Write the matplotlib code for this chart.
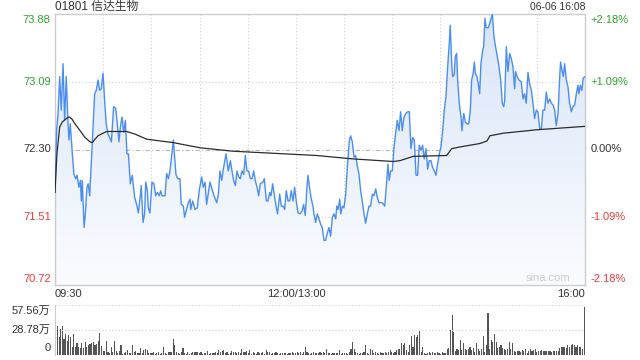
import numpy as np
import matplotlib
matplotlib.use("Agg")
import matplotlib.pyplot as plt
from matplotlib.colors import LinearSegmentedColormap

plt.rcParams["font.family"] = ["Liberation Sans", "Noto Sans CJK SC", "DejaVu Sans"]
plt.rcParams["axes.unicode_minus"] = False

# ── data (trading minutes since 09:30, lunch break removed: 0..330) ──
stock_title = "01801 信达生物"
stamp = "06-06 16:08"
prev_close = 72.30
price_ticks = [73.88, 73.09, 72.30, 71.51, 70.72]
pct_ticks = ["+2.18%", "+1.09%", "0.00%", "-1.09%", "-2.18%"]
time_labels = ["09:30", "12:00/13:00", "16:00"]
vol_ticks = ["57.56万", "28.78万", "0"]
vol_max = 57.56

price_time = [
    0, 1.0, 1.9, 2.9, 3.9, 5.0, 6.0, 7.0, 8.1, 8.7, 9.5, 10.8, 11.8, 12.9, 13.7,
    14.9, 15.8, 16.4, 17.0, 18.1, 18.9, 19.9, 20.7, 21.6, 23.2, 24.7, 25.7, 26.8,
    27.8, 28.8, 29.9, 30.9, 31.9, 33.0, 34.0, 35.1, 36.5, 37.8, 38.8, 39.8, 40.7,
    41.7, 42.8, 43.8, 44.8, 45.7, 46.9, 48.1, 49.6, 51.1, 51.9, 53.1, 53.7, 54.8,
    55.8, 56.5, 57.5, 58.1, 59.1, 60.4, 61.6, 62.7, 63.7, 64.9, 65.8, 66.6, 68.5,
    69.5, 70.6, 71.6, 73.7, 75.3, 76.4, 77.8, 78.6, 79.9, 80.7, 81.6, 83.0, 84.1,
    84.5, 85.7, 87.2, 88.6, 89.8, 91.3, 92.3, 93.4, 94.4, 95.5, 96.5, 97.7, 99.0,
    100.7, 101.7, 102.7, 103.8, 104.8, 106.5, 107.9, 109.2, 110.2, 111.2, 112.3,
    113.3, 114.4, 115.4, 116.4, 117.5, 118.5, 119.5, 120.6, 121.6, 122.7, 123.7,
    124.7, 125.8, 126.8, 127.8, 129.5, 130.3, 131.6, 132.6, 133.7, 134.5, 135.5,
    136.5, 137.8, 138.6, 139.9, 140.9, 142.0, 143.0, 144.0, 145.1, 146.1, 147.1,
    148.2, 149.2, 150.2, 151.3, 152.7, 153.8, 154.8, 155.8, 156.9, 157.5, 158.6,
    159.4, 160.6, 161.4, 162.3, 163.3, 164.4, 165.4, 166.4, 167.5, 168.5, 169.6,
    170.6, 171.6, 172.7, 173.7, 174.8, 175.4, 176.2, 177.3, 177.9, 178.9, 179.9,
    181.0, 182.0, 183.3, 184.1, 185.1, 186.2, 187.2, 188.2, 189.3, 190.3, 191.3,
    192.4, 193.4, 194.5, 195.5, 196.5, 197.6, 198.6, 199.7, 200.7, 201.7, 203.8,
    205.3, 206.5, 207.3, 208.1, 209.0, 210.0, 211.1, 212.1, 213.1, 214.2, 215.2,
    216.2, 217.3, 218.5, 219.6, 220.6, 221.6, 222.7, 223.7, 224.8, 225.8, 226.8,
    227.9, 228.9, 229.9, 231.0, 232.0, 233.0, 234.1, 235.1, 236.2, 237.2, 238.2,
    239.3, 240.3, 241.4, 242.4, 243.4, 244.5, 245.5, 246.1, 247.0, 247.6, 248.6,
    249.2, 250.1, 250.7, 251.7, 252.8, 253.4, 254.5, 255.5, 256.5, 257.6, 258.6,
    259.4, 260.4, 261.1, 261.7, 262.7, 263.5, 264.4, 265.2, 266.3, 266.9, 267.7,
    268.5, 269.8, 271.0, 272.3, 273.3, 274.1, 275.4, 276.2, 277.5, 278.5, 279.4,
    280.0, 281.0, 282.0, 283.1, 284.1, 285.1, 286.2, 286.8, 287.8, 288.9, 290.3,
    291.4, 292.4, 293.4, 294.5, 295.5, 296.6, 297.6, 298.6, 299.7, 300.7, 301.8,
    302.8, 303.8, 304.9, 305.9, 306.9, 308.0, 309.0, 310.1, 311.1, 312.1, 313.2,
    314.2, 314.8, 315.6, 316.5, 317.3, 318.4, 319.4, 320.4, 321.5, 322.5, 323.6,
    324.6, 325.6, 326.2, 327.1, 328.1, 328.8, 330.0,
]
price = [
    71.80, 72.52, 72.72, 73.15, 72.76, 73.30, 72.64, 73.15, 72.60, 72.41, 72.60,
    72.25, 72.01, 71.96, 72.00, 71.86, 71.94, 71.70, 71.94, 71.39, 71.55, 71.86,
    71.90, 71.76, 72.37, 72.95, 72.99, 73.11, 72.99, 73.01, 73.19, 72.87, 72.60,
    72.48, 72.44, 72.39, 72.80, 72.78, 72.60, 72.39, 72.56, 72.68, 72.50, 72.64,
    72.25, 72.25, 71.90, 72.00, 71.74, 71.64, 71.56, 71.76, 71.88, 71.45, 71.55,
    71.92, 71.82, 71.62, 71.56, 71.92, 71.90, 71.76, 71.80, 71.76, 71.82, 71.76,
    71.76, 72.02, 71.96, 72.05, 72.41, 72.01, 71.96, 71.96, 71.66, 71.64, 71.51,
    71.58, 71.68, 71.72, 71.60, 71.70, 71.60, 71.62, 71.82, 71.98, 71.86, 71.92,
    71.66, 71.80, 71.92, 71.84, 71.76, 71.68, 71.78, 72.05, 71.94, 72.07, 72.25,
    72.05, 72.17, 72.05, 71.94, 71.88, 72.05, 71.98, 71.96, 72.05, 72.01, 72.23,
    72.05, 72.05, 71.96, 71.96, 72.05, 71.94, 71.86, 71.76, 71.90, 71.92, 71.96,
    71.70, 71.70, 71.80, 71.76, 71.90, 71.78, 71.62, 71.55, 71.78, 71.64, 71.64,
    71.60, 71.82, 71.70, 71.70, 71.82, 71.70, 71.86, 71.70, 71.56, 71.55, 71.58,
    71.66, 71.53, 71.86, 72.00, 71.84, 71.74, 71.64, 71.53, 71.45, 71.55, 71.49,
    71.43, 71.39, 71.24, 71.24, 71.33, 71.39, 71.29, 71.51, 71.55, 71.49, 71.64,
    71.60, 71.72, 71.55, 71.64, 71.62, 71.78, 72.09, 72.41, 72.46, 72.39, 72.21,
    72.23, 72.11, 72.01, 71.82, 71.70, 71.55, 71.44, 71.55, 71.64, 71.64, 71.78,
    71.76, 71.84, 71.74, 71.68, 71.68, 71.64, 71.92, 72.13, 71.94, 72.05, 72.05,
    72.33, 72.48, 72.64, 72.52, 72.74, 72.52, 72.68, 72.72, 72.74, 72.74, 72.31,
    72.44, 72.41, 72.00, 72.00, 72.35, 72.29, 72.35, 72.19, 72.31, 72.07, 72.17,
    72.17, 72.09, 72.05, 72.00, 72.13, 72.25, 72.33, 72.52, 72.76, 72.91, 73.27,
    73.54, 73.75, 73.30, 73.15, 73.17, 73.38, 73.42, 73.11, 72.84, 72.68, 72.52,
    72.72, 72.62, 72.60, 72.60, 72.76, 73.11, 73.19, 73.32, 73.19, 73.15, 73.07,
    72.95, 73.30, 73.46, 73.50, 73.83, 73.72, 73.72, 73.79, 73.88, 73.62, 73.52,
    73.38, 73.30, 73.11, 72.84, 72.80, 72.87, 73.50, 73.21, 73.42, 73.36, 73.27,
    73.01, 73.21, 73.15, 73.11, 73.09, 72.89, 72.95, 72.84, 73.20, 73.07, 72.99,
    72.84, 72.66, 72.76, 72.74, 72.54, 72.54, 72.76, 72.76, 72.97, 72.84, 72.89,
    72.84, 72.82, 72.76, 72.58, 72.72, 73.13, 73.32, 73.23, 73.15, 73.30, 73.11,
    73.03, 72.84, 72.74, 72.80, 72.82, 72.95, 73.05, 72.95, 73.05, 72.99, 73.13,
    73.15,
]

avg_time = [0, 1.2, 2.9, 4.5, 7.0, 8.7, 10.4, 12.4, 15.6, 18.7, 21.8, 23.2, 24.9,
            26.8, 29.9, 32.2, 44.6, 49.8, 57.1, 65.4, 73.7, 90.3, 110.8, 131.8,
            162.9, 185.7, 210.6, 214.8, 223.1, 243.9, 247.0, 252.2, 264.6, 269.0,
            270.8, 279.1, 299.9, 330.0]
avg_price = [71.80, 72.25, 72.56, 72.62, 72.66, 72.68, 72.66, 72.60, 72.52, 72.44,
             72.39, 72.38, 72.42, 72.46, 72.49, 72.51, 72.51, 72.48, 72.42, 72.40,
             72.38, 72.32, 72.28, 72.26, 72.23, 72.19, 72.16, 72.17, 72.22, 72.23,
             72.31, 72.33, 72.37, 72.40, 72.46, 72.49, 72.53, 72.57]

# volume per minute, in 万 shares
volume = [
    45.9, 33.0, 21.0, 30.0, 33.0, 18.0, 24.5, 15.6, 22.6, 20.6, 9.0, 23.7, 9.0,
    14.0, 9.0, 7.8, 13.6, 7.8, 15.2, 9.0, 12.0, 12.8, 13.6, 15.2, 11.3, 12.8,
    16.0, 25.3, 10.0, 5.0, 5.0, 16.0, 3.0, 2.0, 9.0, 3.0, 16.0, 5.0, 2.0, 4.3,
    11.0, 1.2, 2.0, 3.0, 6.0, 2.0, 2.0, 12.0, 3.0, 5.0, 2.0, 2.3, 8.0, 2.7, 5.8,
    6.6, 5.8, 2.3, 2.0, 2.0, 3.0, 1.2, 2.3, 3.9, 1.2, 2.7, 9.7, 2.0, 1.2, 3.0,
    3.9, 3.9, 18.0, 12.0, 3.0, 2.0, 1.2, 3.0, 7.8, 2.0, 1.2, 3.0, 1.2, 2.0, 3.0,
    3.9, 3.0, 3.9, 2.3, 3.9, 1.2, 2.0, 2.3, 5.0, 1.2, 2.0, 2.3, 2.0, 3.0, 2.3,
    5.8, 3.0, 5.0, 5.8, 2.3, 3.0, 1.2, 2.0, 5.0, 3.0, 3.9, 2.3, 3.0, 2.0, 7.0,
    3.0, 3.9, 5.0, 2.3, 5.8, 1.2, 3.0, 2.0, 1.2, 3.0, 2.3, 2.0, 3.0, 1.2, 5.8,
    3.9, 3.0, 1.2, 2.0, 2.3, 3.0, 2.0, 1.2, 2.3, 2.0, 2.7, 2.0, 1.2, 2.3, 2.0,
    3.0, 2.0, 2.3, 3.0, 2.0, 3.9, 1.2, 3.0, 9.7, 3.0, 2.0, 1.2, 2.3, 3.9, 2.0,
    2.7, 2.0, 3.0, 2.0,
    3.0, 2.0, 7.0, 2.0, 2.3, 1.2, 2.0, 2.0, 2.0, 2.3, 5.8, 1.2, 2.3, 2.0, 2.3,
    1.2, 3.0, 7.0, 14.4, 7.0, 3.0, 2.3, 1.2, 2.7, 2.3, 3.0, 11.0, 2.0, 1.2, 7.0,
    5.8, 2.0, 3.9, 2.3, 1.2, 3.0, 2.3, 2.0, 3.0, 2.3, 3.9, 5.8, 3.0, 2.3, 3.9,
    5.8, 7.0, 7.0, 14.0, 11.0, 14.0, 5.8, 3.0, 11.0, 21.4, 9.0, 23.3, 20.6, 23.3,
    28.4, 3.0, 9.0, 2.0, 1.2, 2.0, 3.9, 2.0, 3.9, 2.0, 2.3, 3.0, 2.0, 1.2, 3.9,
    2.3, 2.0, 7.0, 8.0, 28.4, 45.9, 26.5, 5.0, 7.0, 5.8, 17.5, 5.8, 13.6, 7.0,
    5.8, 7.0, 9.0, 5.8, 8.0, 3.0, 13.6, 7.0, 5.0, 7.0, 21.4, 3.0, 11.0, 48.6,
    7.0, 17.5, 14.8, 24.5, 14.8, 8.0, 9.0, 11.0, 8.0, 7.0, 5.8, 7.0, 14.8, 7.0,
    13.6, 4.3, 3.0, 5.0, 4.3, 3.0, 5.8, 5.0, 7.0, 2.0, 5.0, 7.0, 5.0, 5.8, 7.0,
    3.0, 4.3, 5.0, 5.8, 5.0, 4.3, 4.3, 5.0, 4.3, 3.0, 5.0, 5.0, 4.3, 5.0, 8.0,
    9.0, 9.0, 9.7, 8.0, 11.0, 9.0, 11.7, 12.8, 11.0, 9.7, 11.0, 9.0, 9.7, 7.0,
    55.6,
]

# ── colours ──
GREEN = "#2aa52a"
RED = "#f03c3c"
DARK = "#333333"
GRID = "#cfcfcf"
BLUE = "#4c8ef0"

fig = plt.figure(figsize=(6.4, 3.6), dpi=100)
W, H = 640.0, 360.0


def box(x0, y0, x1, y1):
    """pixel box (top-left origin) -> figure fraction rect"""
    return [x0 / W, 1 - y1 / H, (x1 - x0) / W, (y1 - y0) / H]


ax = fig.add_axes(box(55, 14, 585, 285))
axv = fig.add_axes(box(55, 305, 585, 355))

t_end = 330
ymin, ymax = price_ticks[-1], price_ticks[0]

# gradient area under the price line
poly = ax.fill_between(price_time, price, ymin, color="none", lw=0)
cmap = LinearSegmentedColormap.from_list("fill", ["#fbfcff", "#d8e5f8"])
grad = np.linspace(0, 1, 256).reshape(-1, 1)
im = ax.imshow(grad, extent=[0, t_end, ymin, ymax], origin="lower",
               aspect="auto", cmap=cmap, zorder=1)
im.set_clip_path(poly.get_paths()[0], transform=ax.transData)

# grid
for m in range(30, t_end, 30):
    ax.axvline(m, color=GRID, lw=0.8, ls=(0, (1, 2)), zorder=0.5)
for p in price_ticks[1:-1]:
    if p == prev_close:
        ax.axhline(p, color="#b5b5b5", lw=0.8, ls=(0, (4, 2, 1, 2)), zorder=0.5)
    else:
        ax.axhline(p, color=GRID, lw=0.8, ls=(0, (1, 2)), zorder=0.5)

ax.plot(price_time, price, color=BLUE, lw=1.0, zorder=3)
ax.plot(avg_time, avg_price, color="#2b2b2b", lw=0.9, zorder=4)

ax.set_xlim(0, t_end)
ax.set_ylim(ymin, ymax)
ax.set_xticks([])
ax.set_yticks([])
for s in ax.spines.values():
    s.set_color("#cccccc")
    s.set_linewidth(1.0)

# left price labels / right percent labels
colors = [GREEN, GREEN, DARK, RED, RED]
for i, (p, pc, c) in enumerate(zip(price_ticks, pct_ticks, colors)):
    yy = p - 0.07 if i == 0 else (p + 0.07 if i == len(price_ticks) - 1 else p)
    ax.text(-0.008, yy, f"{p:.2f}", transform=ax.get_yaxis_transform(),
            ha="right", va="center", color=c, fontsize=8)
    ax.text(1.01, yy, pc, transform=ax.get_yaxis_transform(),
            ha="left", va="center", color=c, fontsize=8)

# time labels
ty = -0.015
ax.text(0, ty, time_labels[0], transform=ax.transAxes, ha="left", va="top",
        fontsize=8, color=DARK)
ax.text(150 / t_end, ty, time_labels[1], transform=ax.transAxes,
        ha="center", va="top", fontsize=8, color=DARK)
ax.text(1, ty, time_labels[2], transform=ax.transAxes, ha="right", va="top",
        fontsize=8, color=DARK)

ax.text(0.93, 0.025, "sina.com", transform=ax.transAxes, ha="center",
        va="center", fontsize=8, color="#cccccc")

fig.text(55 / W, 1 - 7 / H, stock_title, ha="left", va="center", fontsize=8.5,
         color=DARK)
fig.text(585 / W, 1 - 7 / H, stamp, ha="right", va="center", fontsize=7.5,
         color=DARK)

# volume panel (1px solid bars, no antialiasing)
vol_time = np.linspace(0, t_end, len(volume))
axv.bar(vol_time, volume, width=0.7, color="#555555", lw=0, antialiased=False)
axv.set_xlim(-0.5, t_end + 0.5)
axv.set_ylim(0, vol_max)
for v in (vol_max, vol_max / 2):
    axv.axhline(v, color=GRID, lw=0.8, ls=(0, (1, 2)))
axv.set_xticks([])
axv.set_yticks([])
for k in ("top", "right", "bottom"):
    axv.spines[k].set_visible(False)
axv.spines["left"].set_color("#cccccc")
axv.text(-0.008, vol_max - 6.5, vol_ticks[0], transform=axv.get_yaxis_transform(),
         ha="right", va="center", fontsize=8, color=DARK)
axv.text(-0.008, vol_max / 2, vol_ticks[1], transform=axv.get_yaxis_transform(),
         ha="right", va="center", fontsize=8, color=DARK)
axv.text(-0.008, 7.5, vol_ticks[2], transform=axv.get_yaxis_transform(),
         ha="right", va="center", fontsize=8, color=DARK)

fig.savefig("out.png", dpi=100)
